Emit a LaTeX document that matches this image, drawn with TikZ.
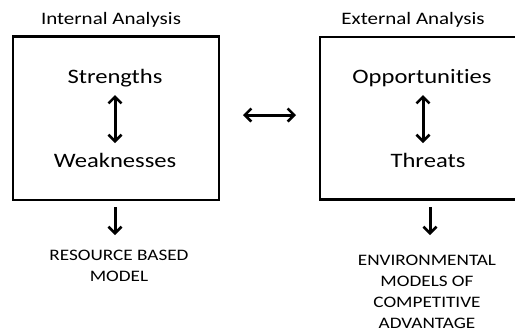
\documentclass[tikz,border=0pt]{standalone}
\usepackage{fontspec}
\setmainfont{Carlito}[FakeStretch=1.2,Ligatures=NoCommon]
\usetikzlibrary{arrows.meta}
\begin{document}
\begin{tikzpicture}[x=1pt,y=-1pt,
  panel/.style={draw=black,line width=2.4pt},
  lbl/.style={inner sep=0pt,align=center},
  big/.style={lbl,font=\fontsize{20.5}{22}\selectfont},
  head/.style={lbl,font=\fontsize{17.5}{18}\selectfont},
  small/.style={lbl,font=\fontsize{16}{21}\selectfont},
  arr/.style={line width=3pt,{Straight Barb[length=6.5pt,width=13pt,line width=2.6pt]}-{Straight Barb[length=6.5pt,width=13pt,line width=2.6pt]}},
  darr/.style={line width=3pt,-{Straight Barb[length=6.5pt,width=13pt,line width=2.6pt]}}]
\useasboundingbox (0,0) rectangle (515,335);
\clip (0,0) rectangle (515,335);
\draw[panel] (13,36.5) rectangle (219,200);
\draw[panel] (320,37) rectangle (530,199.5);
\node[head] (ia) at (111,20) {Internal Analysis};
\node[head] (ea) at (413,20) {External Analysis};
\node[big] (s) at (115,78) {Strengths};
\node[big] (w) at (115,160) {Weaknesses};
\node[big] (o) at (422,78) {Opportunities};
\node[big] (t) at (428,160) {Threats};
\coordinate (s1) at (115,95); \coordinate (w1) at (115,143);
\coordinate (o1) at (423,95); \coordinate (t1) at (423,143);
\coordinate (h1) at (243,115); \coordinate (h2) at (296,115);
\coordinate (d1a) at (115,207); \coordinate (d1b) at (115,235);
\coordinate (d2a) at (430,207); \coordinate (d2b) at (430,235);
\draw[arr] (s1) -- (w1);
\draw[arr] (o1) -- (t1);
\draw[arr] (h1) -- (h2);
\draw[darr] (d1a) -- (d1b);
\draw[darr] (d2a) -- (d2b);
\node[small,anchor=north] (rb) at (119,250) {RESOURCE BASED\\MODEL};
\node[small,anchor=north] (em) at (427,255) {ENVIRONMENTAL\\MODELS OF\\COMPETITIVE\\ADVANTAGE};
\end{tikzpicture}
\end{document}
